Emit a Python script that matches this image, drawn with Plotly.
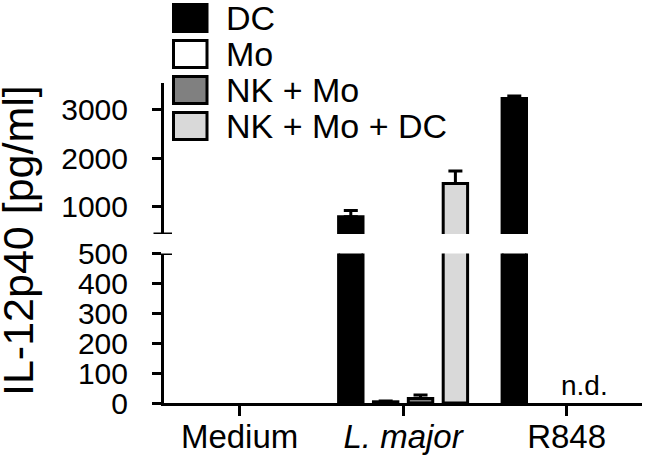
import plotly.graph_objects as go

# ---------------- data ----------------
categories = ["Medium", "L. major", "R848"]
tick_labels = ["Medium", "<i>L. major</i>", "R848"]
series_names = ["DC", "Mo", "NK + Mo", "NK + Mo + DC"]

# Medium: no visible bars in the reference
dc_values = [None, 800, 3220]
dc_errors = [0, 130, 50]
mo_values = [None, 4, None]
mo_errors = [0, 3, 0]
nkmo_values = [None, 15, None]
nkmo_errors = [0, 12, 0]
nkmodc_values = [None, 1480, None]
nkmodc_errors = [0, 255, 0]

lower_ticks = [0, 100, 200, 300, 400, 500]
upper_ticks = [1000, 2000, 3000]
lower_range = [0, 500]
upper_range = [447, 3538]

y_title = "IL-12p40 [pg/ml]"
nd_label = "n.d."

# ---------------- styles ----------------
fill_colors = ["#000000", "#ffffff", "#808080", "#d9d9d9"]
FONT = "Liberation Sans, Arial, Helvetica, sans-serif"

W, H = 650, 460
L, R, T, B = 164, 642, 83, 403        # plot area in pixels
PW, PH = R - L, B - T


def px_x(p):
    return (p - L) / PW


def px_y(p):
    return (B - p) / PH


values = [dc_values, mo_values, nkmo_values, nkmodc_values]
errors = [dc_errors, mo_errors, nkmo_errors, nkmodc_errors]

fig = go.Figure()
for axis in ["y", "y2"]:
    for name, vals, errs, col in zip(series_names, values, errors, fill_colors):
        fig.add_trace(go.Bar(
            x=categories, y=vals, name=name, yaxis=axis, xaxis="x",
            marker=dict(color=col, line=dict(color="black", width=3)),
            error_y=dict(type="data", array=errs, arrayminus=[0] * len(errs),
                         symmetric=False, color="black", thickness=3, width=7),
            showlegend=False,
        ))

cat_step = 163.5
x0 = (L - 239.6) / cat_step
x1 = (R - 239.6) / cat_step

axis_common = dict(
    showline=True, linewidth=3, linecolor="black",
    ticks="outside", ticklen=9, tickwidth=3, tickcolor="black",
    showgrid=False, zeroline=False, automargin=False,
    tickfont=dict(family=FONT, size=30, color="black"),
)

fig.update_layout(
    width=W, height=H,
    margin=dict(l=L, r=W - R, t=T, b=H - B, pad=0, autoexpand=False),
    paper_bgcolor="white", plot_bgcolor="white",
    barmode="group", bargap=0.147, bargroupgap=0.3,
    showlegend=False,
    font=dict(family=FONT, color="black"),
    xaxis=dict(
        type="category", range=[x0, x1], anchor="y",
        showline=True, linewidth=3, linecolor="black",
        ticks="outside", ticklen=10, tickwidth=3, tickcolor="black",
        tickvals=categories, ticktext=tick_labels,
        showgrid=False, zeroline=False, automargin=False,
        tickfont=dict(family=FONT, size=33, color="black"),
        ticklabelstandoff=-8,
    ),
    yaxis=dict(domain=[0, px_y(253.5)], range=lower_range,
               tickvals=lower_ticks, anchor="x", ticklabelstandoff=18, **axis_common),
    yaxis2=dict(domain=[px_y(234), 1], range=upper_range,
                tickvals=upper_ticks, anchor="x", ticklabelstandoff=18, **axis_common),
)

# axis break marks
for yref, yv in [("y", lower_range[1]), ("y2", upper_range[0])]:
    fig.add_shape(type="line", xref="paper", yref=yref,
                  x0=px_x(153.5), x1=px_x(172), y0=yv, y1=yv,
                  line=dict(color="black", width=3))

# custom legend (large boxes)
for i, (name, col) in enumerate(zip(series_names, fill_colors)):
    cy = 18 + 36 * i
    fig.add_shape(type="rect", xref="paper", yref="paper",
                  x0=px_x(173.5), x1=px_x(207), y0=px_y(cy + 13.5), y1=px_y(cy - 13.5),
                  fillcolor=col, line=dict(color="black", width=3))
    fig.add_annotation(xref="paper", yref="paper", x=px_x(224), y=px_y(cy),
                       xanchor="left", yanchor="middle", text=name, showarrow=False,
                       font=dict(family=FONT, size=34, color="black"))

# y-axis title spanning both segments
fig.add_annotation(xref="paper", yref="paper", x=px_x(18), y=px_y(241),
                   xanchor="center", yanchor="middle", text=y_title, textangle=-90,
                   showarrow=False, font=dict(family=FONT, size=43, color="black"))

# n.d. label for R848
fig.add_annotation(xref="x", yref="y", x=2.107, y=60, text=nd_label, showarrow=False,
                   xanchor="center", yanchor="middle",
                   font=dict(family=FONT, size=28, color="black"))

# remove the default 8px page margin so the figure fills the window exactly
fig.write_html("out.html", config={"displayModeBar": False},
               post_script="document.body.style.margin='0px';")
